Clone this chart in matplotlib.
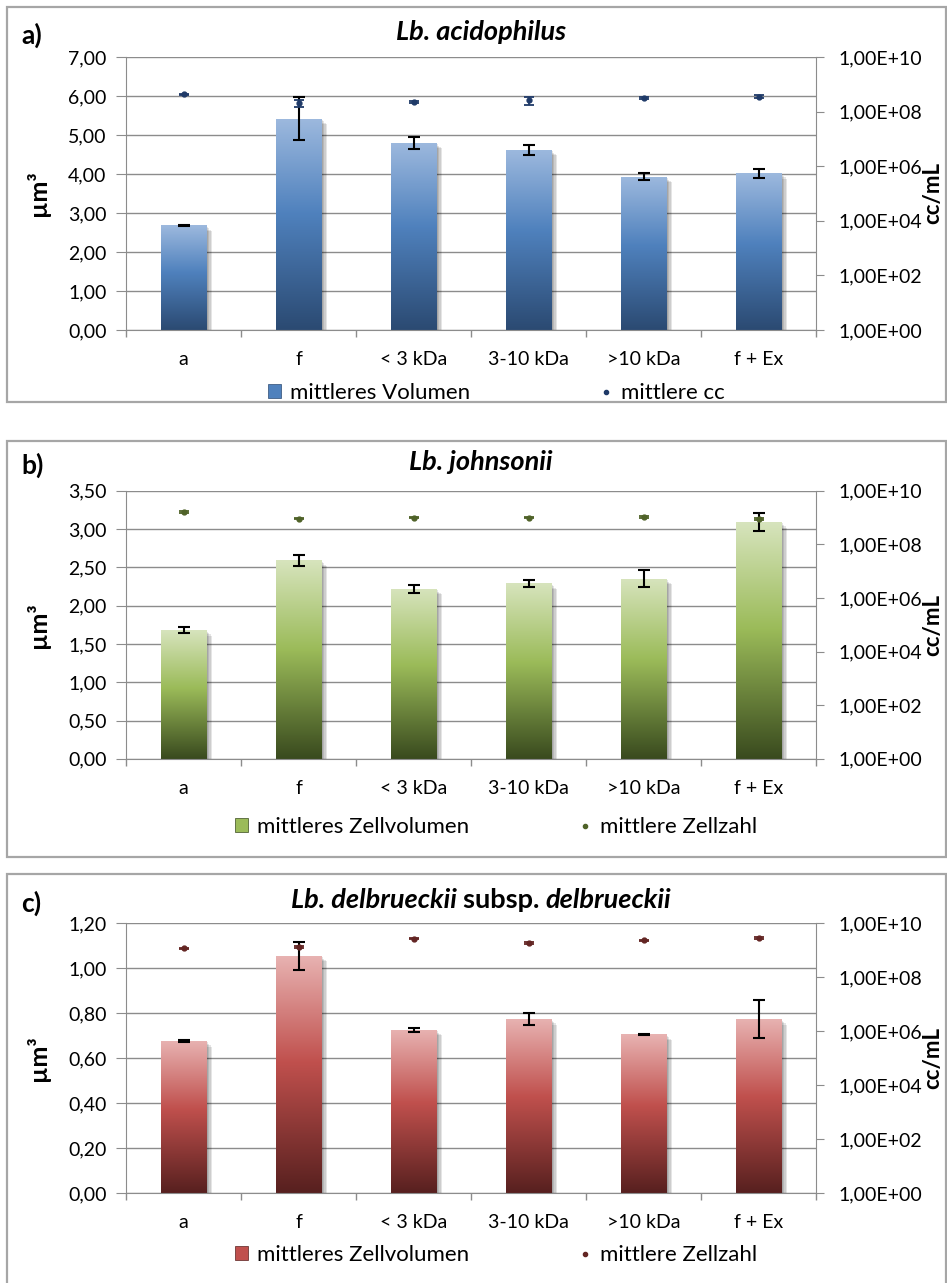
import numpy as np
import matplotlib
matplotlib.use("Agg")
import matplotlib.pyplot as plt
from matplotlib.colors import LinearSegmentedColormap
from matplotlib.patches import Rectangle
from matplotlib.lines import Line2D
from matplotlib import patheffects as pe
from matplotlib.ticker import FixedLocator, FuncFormatter

plt.rcParams['font.family'] = ['Lato', 'DejaVu Sans']

# ---------- data ----------
categories = ["a", "f", "< 3 kDa", "3-10 kDa", ">10 kDa", "f + Ex"]

# a) Lb. acidophilus
vol_a = [2.68, 5.42, 4.80, 4.62, 3.93, 4.02]
vol_a_err = [0.02, 0.55, 0.15, 0.13, 0.09, 0.12]
cc_a = [4.3e8, 2.07e8, 2.2e8, 2.6e8, 3.2e8, 3.5e8]
cc_a_err = [0.3e8, 0.63e8, 0.2e8, 0.8e8, 0.3e8, 0.4e8]

# b) Lb. johnsonii
vol_b = [1.68, 2.59, 2.22, 2.29, 2.35, 3.09]
vol_b_err = [0.04, 0.07, 0.05, 0.05, 0.11, 0.12]
cc_b = [1.6e9, 9.1e8, 1.0e9, 1.0e9, 1.05e9, 8.9e8]
cc_b_err = [0.1e9, 0.6e8, 0.06e9, 0.06e9, 0.05e9, 0.5e8]

# c) Lb. delbrueckii subsp. delbrueckii
vol_c = [0.677, 1.055, 0.727, 0.774, 0.706, 0.774]
vol_c_err = [0.003, 0.063, 0.008, 0.027, 0.004, 0.085]
cc_c = [1.18e9, 1.35e9, 2.7e9, 1.9e9, 2.4e9, 2.8e9]
cc_c_err = [0.08e9, 0.1e9, 0.15e9, 0.15e9, 0.1e9, 0.2e9]

W, H = 947, 1283
fig = plt.figure(figsize=(W / 100, H / 100), dpi=100)

GRID = '#8C8C8C'
FS = 14


def fx(px):
    return px / W


def fy(py):
    return 1 - py / H


def comma2(v, pos=None):
    return f"{v:.2f}".replace('.', ',')


def sci(v, pos=None):
    e = int(round(np.log10(v)))
    return f"1,00E+{e:02d}"


def panel(top, bottom, vol, vol_err, cc, cc_err, ymax, ystep, colors, pt_color,
          label, title_parts, leg_labels, leg_y, colspace, frame):
    # frame around the panel
    fig.add_artist(Rectangle((fx(7), fy(frame[1])), fx(939), (frame[1] - frame[0]) / H,
                             transform=fig.transFigure, fill=False,
                             ec='#A6A6A6', lw=1.6))
    ax = fig.add_axes([fx(126), fy(bottom), fx(816 - 126), (bottom - top) / H])
    x = np.arange(len(categories))
    cmap = LinearSegmentedColormap.from_list('g', [(0, colors[2]), (0.55, colors[1]), (1, colors[0])])
    shadow = [pe.SimplePatchShadow(offset=(o, -o), shadow_rgbFace='k', alpha=0.10)
              for o in (1.0, 2.0, 3.0, 4.0)] + [pe.Normal()]
    bars = ax.bar(x, vol, width=0.4, color=colors[1], zorder=2)
    grad = np.linspace(0, 1, 256).reshape(-1, 1)
    for b in bars:
        b.set_path_effects(shadow)
        bx, by, bw, bh = b.get_x(), b.get_y(), b.get_width(), b.get_height()
        im = ax.imshow(grad, cmap=cmap, origin='lower', aspect='auto',
                       extent=[bx, bx + bw, by, by + bh], zorder=2.1)
        im.set_clip_path(b)
    ax.errorbar(x, vol, yerr=vol_err, fmt='none', ecolor='black', elinewidth=1.5,
                capsize=4, capthick=1.5, zorder=3)
    ax.set_xlim(-0.5, len(categories) - 0.5)
    ax.set_ylim(0, ymax)
    ax.yaxis.set_major_locator(FixedLocator(np.arange(0, ymax + ystep / 2, ystep)))
    ax.yaxis.set_major_formatter(FuncFormatter(comma2))
    ax.grid(axis='y', color=GRID, lw=1.0, zorder=0)
    ax.set_axisbelow(True)
    ax.set_xticks(x)
    ax.set_xticklabels(categories)
    ax.set_xticks(np.arange(-0.5, len(categories), 1.0), minor=True)
    ax.tick_params(axis='x', which='major', length=0, pad=15, labelsize=FS)
    ax.tick_params(axis='x', which='minor', length=5, color=GRID, width=1)
    ax.tick_params(axis='y', length=7, color=GRID, pad=7, labelsize=FS)
    for s in ('top', 'right'):
        ax.spines[s].set_visible(False)
    for s in ('left', 'bottom'):
        ax.spines[s].set_color(GRID)

    ax2 = ax.twinx()
    ax2.set_yscale('log')
    ax2.set_ylim(1, 1e10)
    ax2.errorbar(x, cc, yerr=cc_err, fmt='o', color=pt_color, ms=3.5, ecolor=pt_color,
                 elinewidth=1.3, capsize=3.5, capthick=1.3, zorder=4)
    ax2.yaxis.set_major_locator(FixedLocator([10.0 ** e for e in range(0, 11, 2)]))
    ax2.yaxis.set_minor_locator(FixedLocator([]))
    ax2.yaxis.set_major_formatter(FuncFormatter(sci))
    ax2.tick_params(axis='y', length=6, color=GRID, pad=10, labelsize=FS)
    for s in ('top', 'left', 'bottom'):
        ax2.spines[s].set_visible(False)
    ax2.spines['right'].set_color(GRID)

    # labels and titles
    mid = fy((top + bottom) / 2)
    fig.text(fx(38), mid, 'µm³', rotation=90, ha='center', va='center',
             fontsize=18, fontweight='bold')
    fig.text(fx(933), mid, 'cc/mL', rotation=90, ha='center', va='center',
             fontsize=16, fontweight='bold')
    ty, parts = title_parts
    fig.text(fx(21), fy(ty + 3), label, ha='left', va='center',
             fontsize=19, fontweight='bold')
    # title built from italic / upright pieces
    txts = []
    for s, style in parts:
        t = fig.text(0, fy(ty), s, ha='left', va='center', fontsize=19.5,
                     fontweight='bold', fontstyle=style)
        txts.append(t)
    fig.canvas.draw()
    r = fig.canvas.get_renderer()
    widths = [t.get_window_extent(r).width for t in txts]
    xs = W * 0.508 - sum(widths) / 2
    for t, w in zip(txts, widths):
        t.set_position((xs / W, fy(ty)))
        xs += w

    handles = [Rectangle((0, 0), 1, 1, fc=colors[1], ec=colors[2], lw=0.5),
               Line2D([], [], ls='none', marker='o', ms=3, color=pt_color)]
    fig.legend(handles, leg_labels, loc='center', bbox_to_anchor=(0.524, fy(leg_y)),
               ncol=2, frameon=False, fontsize=16, handlelength=0.6,
               handleheight=0.6, handletextpad=0.4, columnspacing=colspace)
    return ax


blue = ['#9DB9DE', '#4F81BD', '#2B4A72']
green = ['#D7E4BD', '#9BBB59', '#394A1E']
red = ['#E8B3B2', '#C0504D', '#57201F']

panel(57, 330, vol_a, vol_a_err, cc_a, cc_a_err, 7.0, 1.0, blue, '#1F3A68', 'a)',
      (32, [('Lb. acidophilus', 'italic')]),
      ['mittleres Volumen', 'mittlere cc'], 393, 5.8, (7, 402))
panel(490.7, 758.8, vol_b, vol_b_err, cc_b, cc_b_err, 3.5, 0.5, green, '#4F6228', 'b)',
      (462, [('Lb. johnsonii', 'italic')]),
      ['mittleres Zellvolumen', 'mittlere Zellzahl'], 827, 4.9, (441, 857))
panel(923.3, 1193.3, vol_c, vol_c_err, cc_c, cc_c_err, 1.2, 0.2, red, '#632523', 'c)',
      (900, [('Lb. delbrueckii ', 'italic'), ('subsp. ', 'normal'), ('delbrueckii', 'italic')]),
      ['mittleres Zellvolumen', 'mittlere Zellzahl'], 1255, 4.9, (874, 1300))

fig.savefig('out.png', dpi=100)
